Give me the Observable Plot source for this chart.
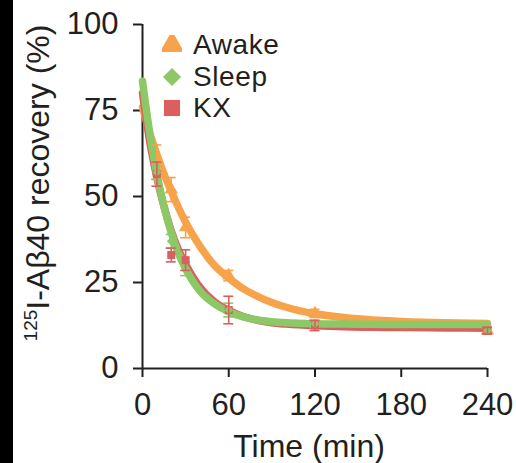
<!DOCTYPE html>
<html>
<head>
<meta charset="utf-8">
<script src="https://cdn.jsdelivr.net/npm/d3@7"></script>
<script src="https://cdn.jsdelivr.net/npm/@observablehq/plot@0.6"></script>
<style>
  html, body { margin: 0; padding: 0; background: #fff; }
  #wrap { position: relative; width: 516px; height: 463px; overflow: hidden;
          font-family: "Liberation Sans", Arial, Helvetica, sans-serif; color: #231f20; }
  #strip { position: absolute; left: 0; top: 0; width: 13px; height: 463px; background: #000; }
  .lbl { position: absolute; white-space: nowrap; font-size: 32px; line-height: 32px; }
  .lbl sup { font-size: 19px; vertical-align: 0; position: relative; top: -12px; }
  .leg { position: absolute; display: flex; align-items: center; font-size: 28px; line-height: 28px; height: 28px; white-space: nowrap; letter-spacing: 0.6px; }
  .leg svg { margin-right: 11px; }
</style>
</head>
<body>
<div id="wrap"><div id="strip"></div></div>
<script>
// Series names, colours, symbols
const seriesNames = ["Awake", "Sleep", "KX"];
const seriesColors = ["#F7A34B", "#8DC866", "#D9605F"];
const seriesSymbols = ["triangle", "diamond2", "square"];

// Measured points (time, mean, error)
const times = [10, 20, 30, 60, 120, 240];
const awakeMean = [60, 52, 41, 27, 16, 11];
const awakeErr = [5, 3.5, 3, 1.5, 1.2, 1];
const sleepMean = [57, 37, 29, 17, 13, 11];
const sleepErr = [2, 2, 2, 2, 1, 1];
const kxMean = [56.5, 33, 31.5, 17, 12.5, 11];
const kxErr = [3.5, 2, 3, 4, 1.5, 1];

// Fitted curves
const fitTimes = [0, 5, 10, 15, 20, 25, 30, 40, 50, 60, 70, 80, 90, 100, 120, 140, 160, 180, 210, 240];
const awakeFit = [76, 68.5, 62.3, 56.5, 51.5, 46.8, 42.5, 35.5, 30, 26.3, 23.2, 21, 19.2, 17.8, 15.9, 14.8, 14.1, 13.7, 13.3, 13.1];
const sleepFit = [83.5, 68.5, 56.5, 47, 39.5, 33.5, 29, 22.5, 18.8, 16.5, 15, 14.1, 13.6, 13.3, 13, 12.9, 12.85, 12.8, 12.8, 12.8];
const kxFit = [80, 66, 55.5, 47, 40, 34.5, 30.3, 23.6, 19.4, 16.9, 15.1, 14, 13.3, 12.9, 12.4, 12.1, 12, 11.9, 11.8, 11.7];

// Axis ticks
const xTicks = [0, 60, 120, 180, 240];
const yTicks = [0, 25, 50, 75, 100];

const means = {Awake: awakeMean, Sleep: sleepMean, KX: kxMean};
const errs = {Awake: awakeErr, Sleep: sleepErr, KX: kxErr};
const fits = {Awake: awakeFit, Sleep: sleepFit, KX: kxFit};
const color = Object.fromEntries(seriesNames.map((s, i) => [s, seriesColors[i]]));
const symbol = Object.fromEntries(seriesNames.map((s, i) => [s, seriesSymbols[i]]));

const pts = s => times.map((t, i) => ({t, v: means[s][i], e: errs[s][i]}));
const fit = s => fitTimes.map((t, i) => ({t, v: fits[s][i]}));

const errMarks = s => [
  Plot.ruleX(pts(s), {x: "t", y1: d => d.v - d.e, y2: d => d.v + d.e, stroke: color[s], strokeWidth: 1.6}),
  Plot.ruleY(pts(s), {y: d => d.v + d.e, x1: "t", x2: "t", insetLeft: -5, insetRight: -5, stroke: color[s], strokeWidth: 1.6}),
  Plot.ruleY(pts(s), {y: d => d.v - d.e, x1: "t", x2: "t", insetLeft: -5, insetRight: -5, stroke: color[s], strokeWidth: 1.6})
];

const chart = Plot.plot({
  width: 516,
  height: 463,
  marginLeft: 142,
  marginRight: 29,
  marginTop: 24,
  marginBottom: 95,
  x: {domain: [0, 240]},
  y: {domain: [0, 100]},
  style: {fontFamily: "'Liberation Sans', Arial, Helvetica, sans-serif", color: "#231f20", background: "transparent", overflow: "visible"},
  marks: [
    Plot.axisY(yTicks, {tickSize: 9, tickPadding: 15, fontSize: 31, strokeWidth: 2, label: null, fill: "#231f20"}),
    Plot.axisX(xTicks, {tickSize: 9, tickPadding: 15, fontSize: 31, strokeWidth: 2, label: null, fill: "#231f20"}),
    Plot.ruleX([0], {y1: 0, y2: 100, stroke: "#231f20", strokeWidth: 2}),
    Plot.ruleY([0], {x1: 0, x2: 240, stroke: "#231f20", strokeWidth: 2}),
    Plot.dot(pts("Awake"), {x: "t", y: "v", symbol: symbol.Awake, fill: color.Awake, r: 5}),
    Plot.line(fit("Awake"), {x: "t", y: "v", stroke: color.Awake, strokeWidth: 7.5, curve: "monotone-x"}),
    Plot.line(fit("KX"), {x: "t", y: "v", stroke: color.KX, strokeWidth: 7.5, curve: "monotone-x"}),
    Plot.line(fit("Sleep"), {x: "t", y: "v", stroke: color.Sleep, strokeWidth: 7.5, curve: "monotone-x"}),
    ...errMarks("Awake"),
    ...errMarks("Sleep"),
    Plot.dot(pts("KX"), {x: "t", y: "v", symbol: symbol.KX, fill: color.KX, r: 4.5}),
    Plot.dot(pts("Sleep"), {x: "t", y: "v", symbol: symbol.Sleep, fill: color.Sleep, r: 4}),
    ...errMarks("KX")
  ]
});

const wrap = document.getElementById("wrap");
chart.style.position = "absolute";
chart.style.left = "0px";
chart.style.top = "0px";
wrap.appendChild(chart);

// Y axis label (rotated, with superscript)
const yl = document.createElement("div");
yl.className = "lbl";
yl.innerHTML = "<sup>125</sup>I-A\u03B240 recovery (%)";
yl.style.left = "39.5px";
yl.style.top = "183px";
yl.style.transform = "translate(-50%, -50%) rotate(-90deg)";
wrap.appendChild(yl);

// X axis label
const xl = document.createElement("div");
xl.className = "lbl";
xl.textContent = "Time (min)";
xl.style.left = "309px";
xl.style.top = "446px";
xl.style.transform = "translate(-50%, -50%)";
wrap.appendChild(xl);

// Legend
const legendTops = [31, 62.5, 94];
seriesNames.forEach((s, i) => {
  const row = document.createElement("div");
  row.className = "leg";
  row.style.left = "162px";
  row.style.top = legendTops[i] + "px";
  const sym = d3.create("svg").attr("width", 20).attr("height", 20);
  sym.append("path")
    .attr("transform", "translate(10,10)")
    .attr("d", d3.symbol(i === 0 ? d3.symbolTriangle : i === 1 ? d3.symbolDiamond2 : d3.symbolSquare, i === 1 ? 210 : 260)())
    .attr("fill", seriesColors[i]);
  row.appendChild(sym.node());
  const txt = document.createElement("span");
  txt.textContent = s;
  row.appendChild(txt);
  wrap.appendChild(row);
});
</script>
</body>
</html>
